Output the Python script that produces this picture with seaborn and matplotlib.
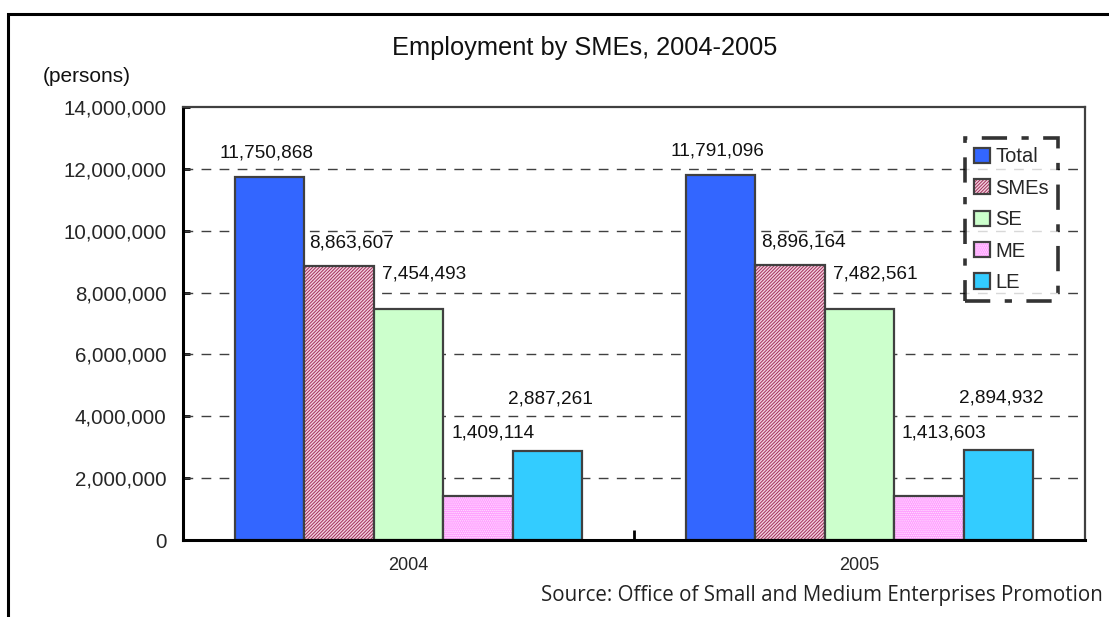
import matplotlib
matplotlib.use("Agg")
import matplotlib.pyplot as plt
import matplotlib.colors as mcolors
from matplotlib.patches import Patch, Rectangle
from matplotlib.ticker import FuncFormatter, FixedLocator
import seaborn as sns
import pandas as pd

# Employment figures (persons)
years = ["2004", "2005"]
series = ["Total", "SMEs", "SE", "ME", "LE"]
total = [11750868, 11791096]
smes = [8863607, 8896164]
se = [7454493, 7482561]
me = [1409114, 1413603]
le = [2887261, 2894932]
y_ticks = [0, 2000000, 4000000, 6000000, 8000000, 10000000, 12000000, 14000000]

title = "Employment by SMEs, 2004-2005"
unit_label = "(persons)"
source_note = "Source: Office of Small and Medium Enterprises Promotion"

rows = []
for name, vals in zip(series, [total, smes, se, me, le]):
    for yr, v in zip(years, vals):
        rows.append({"year": yr, "series": name, "value": v})
df = pd.DataFrame(rows)

# bar styling per series: face colour, hatch, hatch colour
styles = {
    "Total": ("#3366ff", None, None),
    "SMEs": ("#f3d0df", "//////////", "#a0305a"),
    "SE": ("#ccffcc", None, None),
    "ME": ("#ff9cff", "........", "#ffe6ff"),
    "LE": ("#33ccff", None, None),
}
# label placement relative to the bar top (pixels)
label_offsets = {
    "Total": (-3, 24),
    "SMEs": (13, 23),
    "SE": (16, 35),
    "ME": (15, 63),
    "LE": (3, 52),
}
edge_col = "#404040"

sns.set_theme(style="white")
plt.rcParams["font.family"] = ["Liberation Sans", "DejaVu Sans"]
plt.rcParams["hatch.linewidth"] = 0.7

W, H = 1109, 617
fig = plt.figure(figsize=(W / 100, H / 100), dpi=100)
fig.patch.set_facecolor("white")

# outer chart frame
fig.add_artist(Rectangle((8 / W, -0.2), 1.2, 1 - 14 / H + 0.2, transform=fig.transFigure,
                         fill=False, edgecolor="black", linewidth=2.2, zorder=0))

ax = fig.add_axes([183 / W, 1 - 540 / H, 902 / W, 433 / H])
sns.barplot(data=df, x="year", y="value", hue="series", order=years, hue_order=series,
            palette=[styles[s][0] for s in series], width=0.77, gap=0,
            edgecolor=edge_col, linewidth=1.6, saturation=1, legend=False, ax=ax, zorder=3)

for name, cont in zip(series, ax.containers):
    face, hatch, hcol = styles[name]
    for bar, v in zip(cont.patches, cont.datavalues):
        bar.set_facecolor(face)
        if hatch:
            bar.set_hatch(hatch)
            bar._hatch_color = mcolors.to_rgba(hcol)
        dx, dy = label_offsets[name]
        ax.annotate(f"{int(v):,}", (bar.get_x() + bar.get_width() / 2, bar.get_height()),
                    xytext=(dx, dy), textcoords="offset pixels", ha="center", va="center",
                    fontsize=13.7, color="#111111", zorder=5)

ax.set_ylim(0, 14000000)
ax.set_xlim(-0.5, 1.5)
ax.yaxis.set_major_locator(FixedLocator(y_ticks))
ax.yaxis.set_major_formatter(FuncFormatter(lambda v, p: f"{int(v):,}"))
ax.set_xlabel("")
ax.set_ylabel("")

for t in y_ticks[1:-1]:
    ax.axhline(t, color=edge_col, linewidth=1.0, linestyle=(0, (7, 6)), zorder=1)

ax.tick_params(axis="y", which="major", direction="in", length=5, width=2, color="black",
               labelsize=14.8, pad=12, left=True)
ax.tick_params(axis="x", which="major", length=0, labelsize=13, pad=12, bottom=False)
ax.xaxis.set_minor_locator(FixedLocator([0.5]))
ax.tick_params(axis="x", which="minor", direction="in", length=7, width=2, color="black", bottom=True)

for side in ["left", "bottom"]:
    ax.spines[side].set_color("black")
    ax.spines[side].set_linewidth(2.2)
for side in ["top", "right"]:
    ax.spines[side].set_color(edge_col)
    ax.spines[side].set_linewidth(1.6)
for sp in ax.spines.values():
    sp.set_zorder(6)

handles = []
for name in series:
    face, hatch, hcol = styles[name]
    h = Patch(facecolor=face, edgecolor=edge_col, linewidth=1.6, hatch=hatch, label=name)
    if hatch:
        h._hatch_color = mcolors.to_rgba(hcol)
    handles.append(h)
leg = ax.legend(handles=handles, loc="upper right", bbox_to_anchor=(0.970, 0.928),
                fontsize=14.5, handlelength=0.8, handleheight=0.8, handletextpad=0.25,
                labelspacing=0.62, borderpad=0.45, borderaxespad=0, frameon=True,
                fancybox=False)
fr = leg.get_frame()
fr.set_edgecolor("black")
fr.set_linewidth(2.6)
fr.set_linestyle((0, (7, 4, 2, 4)))
leg.set_zorder(7)

fig.text(585 / W, 1 - 48 / H, title, ha="center", va="center", fontsize=18.3, color="#111111")
fig.text(87 / W, 1 - 76 / H, unit_label, ha="center", va="center", fontsize=15, color="#111111")
fig.text(1103 / W, 1 - 596 / H, source_note, ha="right", va="center", fontsize=14.8,
         family=["Open Sans", "DejaVu Sans"], color="#222222")

fig.savefig("out.png", dpi=100, facecolor="white")
